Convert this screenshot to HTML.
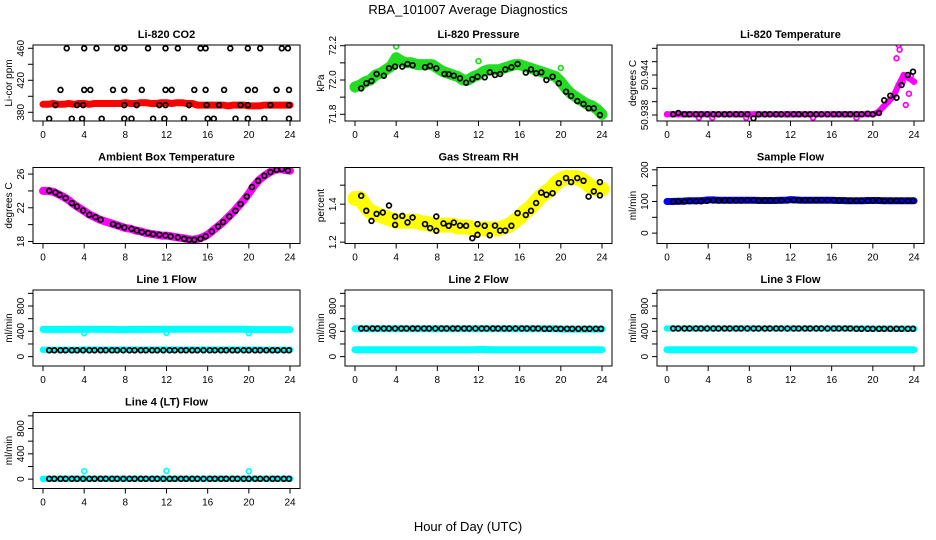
<!DOCTYPE html>
<html><head><meta charset="utf-8">
<style>
html,body{margin:0;padding:0;background:#fff;}
svg{display:block;font-family:"Liberation Sans",Arial,sans-serif;}
</style></head>
<body>
<svg id="chart" width="936" height="540" viewBox="0 0 936 540" xmlns="http://www.w3.org/2000/svg">
<rect width="936" height="540" fill="#fff"/>
<text x="468" y="14" font-size="13" text-anchor="middle">RBA_101007  Average Diagnostics</text>
<text x="468" y="531" font-size="13" text-anchor="middle">Hour of Day (UTC)</text>
</svg>
<script>
const denseHours=[0,0.5,1,1.5,2,2.5,3,3.5,4,4.5,5,5.5,6,6.5,7,7.5,8,8.5,9,9.5,10,10.5,11,11.5,12,12.5,13,13.5,14,14.5,15,15.5,16,16.5,17,17.5,18,18.5,19,19.5,20,20.5,21,21.5,22,22.5,23,23.5,24];
const blackHours=[0.6,1.1,1.7,2.2,2.8,3.3,3.9,4.5,5.0,5.6,6.1,6.7,7.2,7.8,8.4,8.9,9.5,10.0,10.6,11.1,11.7,12.3,12.8,13.4,13.9,14.5,15.0,15.6,16.2,16.7,17.3,17.8,18.4,18.9,19.5,20.0,20.6,21.1,21.7,22.3,22.8,23.4,23.9];
const xTicks=[0,4,8,12,16,20,24];

// CO2
const co2Red=[390,390,391,390,390,391,390,391,391,390,391,391,391,391,391,391,392,391,391,392,392,391,391,392,392,391,392,392,391,391,389,389,389,389,389,389,388,389,389,389,388,388,388,389,389,389,389,389,389];
const co2BlackHours=[2.3,4.0,5.2,7.2,7.9,10.2,11.9,13.1,15.3,15.8,18.2,19.9,21.1,23.2,23.8, 1.7,4.0,4.6,6.8,7.9,9.6,11.9,12.5,14.7,15.8,17.6,19.9,20.6,22.7,23.9, 1.2,3.3,3.9,7.9,9.1,11.3,11.9,14.2,15.9,17.1,19.2,19.9,22.1,23.9, 0.6,2.8,3.8,5.7,7.9,8.6,10.7,11.8,13.7,16.0,16.6,18.7,19.9,21.5,23.9];
const co2Black=[460,460,460,460,460,460,460,460,460,460,460,460,460,460,460, 408,408,408,408,408,408,408,408,408,408,408,408,408,408,408, 389,389,389,389,389,389,389,389,389,389,389,389,389,389, 372,372,372,372,372,372,372,372,372,372,372,372,372,372,372];

// Pressure
const presGreen=[71.96,71.97,71.99,72.00,72.03,72.04,72.06,72.08,72.13,72.11,72.10,72.10,72.09,72.09,72.09,72.09,72.07,72.05,72.04,72.03,72.02,72.00,72.00,72.02,72.03,72.05,72.06,72.06,72.06,72.07,72.08,72.09,72.09,72.08,72.07,72.06,72.05,72.04,72.03,72.02,71.99,71.95,71.92,71.90,71.88,71.86,71.85,71.83,71.80];
const presOutHours=[0.0,4.0,12.0,20.0];
const presOut=[71.945,72.195,72.11,72.07];
const presBlackHours=[0.6,1.1,1.6,2.1,2.8,3.3,3.9,4.6,5.1,5.6,6.8,7.3,7.9,8.7,9.1,9.6,10.2,10.8,11.4,11.9,12.6,13.1,13.6,14.1,14.6,15.2,15.8,16.6,17.1,17.6,18.1,18.6,19.2,19.8,20.5,21.0,21.6,22.2,22.7,23.2,23.8];
const presBlack=[71.951,71.981,71.994,72.035,72.025,72.068,72.078,72.078,72.093,72.086,72.074,72.082,72.068,72.035,72.033,72.025,72.010,71.984,72.004,72.019,72.016,72.045,72.029,72.035,72.062,72.074,72.093,72.043,72.062,72.039,72.045,72.000,72.019,71.981,71.932,71.907,71.877,71.860,71.835,71.835,71.796];

// Li-820 temperature
const ltMag=[50.9381,50.9381,50.9381,50.9381,50.9381,50.9381,50.9381,50.9381,50.9381,50.9381,50.9381,50.9381,50.9381,50.9381,50.9381,50.9381,50.9381,50.9381,50.9381,50.9381,50.9381,50.9381,50.9381,50.9381,50.9381,50.9381,50.9381,50.9381,50.9381,50.9381,50.9381,50.9381,50.9381,50.9381,50.9381,50.9381,50.9381,50.9381,50.9381,50.9381,50.9381,50.9384,50.9392,50.9400,50.9408,50.9425,50.9440,50.9435,50.9430];
const ltMagExtraHours=[3.1,4.4,7.7,14.2,18.4,22.3,22.5,22.6,22.9,23.2,23.5,23.7];
const ltMagExtra=[50.9376,50.9376,50.9376,50.9376,50.9376,50.9465,50.9485,50.9478,50.9430,50.9395,50.9412,50.9438];
const ltBlack=[50.9381,50.9383,50.9381,50.9381,50.9381,50.9381,50.9381,50.9381,50.9381,50.9381,50.9381,50.9381,50.9381,50.9381,50.9375,50.9381,50.9381,50.9381,50.9381,50.9381,50.9381,50.9381,50.9381,50.9381,50.9381,50.9381,50.9381,50.9381,50.9381,50.9381,50.9381,50.9381,50.9381,50.9381,50.9382,50.9381,50.9383,50.9402,50.9409,50.9406,50.9425,50.9440,50.9445];

// Ambient box temperature
const ambMag=[24.0,24.0,23.9,23.6,23.3,22.9,22.4,22.0,21.6,21.2,20.9,20.6,20.4,20.2,20.0,19.8,19.6,19.5,19.3,19.2,19.0,18.9,18.8,18.7,18.7,18.6,18.5,18.4,18.3,18.2,18.3,18.5,18.8,19.3,19.8,20.3,20.9,21.5,22.2,22.9,23.7,24.6,25.3,25.8,26.2,26.5,26.6,26.5,26.4];
const ambBlackHours=[0.6,1.2,1.6,2.2,2.8,3.3,3.9,4.5,5.1,5.6,6.8,7.3,7.9,8.6,9.1,9.6,10.2,10.7,11.3,11.9,12.4,13.1,13.7,14.2,14.7,15.3,15.8,16.4,17.0,17.5,18.1,18.7,19.2,19.8,20.3,20.9,21.5,22.1,22.7,23.2,23.8];
const ambBlack=[24.02,23.81,23.54,23.15,22.55,22.15,21.68,21.17,20.89,20.58,20.06,19.86,19.66,19.51,19.31,19.11,18.99,18.88,18.80,18.71,18.60,18.48,18.32,18.20,18.20,18.32,18.60,19.19,19.78,20.30,20.97,21.64,22.44,23.34,24.45,25.20,25.80,26.23,26.51,26.59,26.42];

// Gas stream RH
const rhYel=[1.43,1.43,1.39,1.36,1.35,1.34,1.33,1.32,1.31,1.31,1.31,1.31,1.31,1.30,1.30,1.29,1.29,1.29,1.29,1.29,1.28,1.28,1.28,1.27,1.27,1.27,1.27,1.27,1.27,1.28,1.29,1.31,1.33,1.36,1.38,1.41,1.44,1.46,1.48,1.51,1.53,1.54,1.54,1.54,1.53,1.51,1.49,1.48,1.48];
const rhBlackHours=[0.6,1.1,1.6,2.1,2.7,3.3,3.9,3.9,4.6,5.1,5.6,6.8,7.3,7.9,7.9,8.6,9.1,9.6,10.2,10.8,11.4,11.9,11.9,12.6,13.1,13.6,14.1,14.6,15.2,15.8,16.6,17.1,17.6,18.1,18.6,19.2,19.8,20.5,21.0,21.6,22.2,22.7,23.2,23.8,23.8];
const rhBlack=[1.444,1.365,1.312,1.349,1.356,1.393,1.335,1.291,1.338,1.304,1.330,1.295,1.274,1.335,1.260,1.299,1.286,1.303,1.287,1.286,1.221,1.295,1.239,1.286,1.236,1.287,1.261,1.261,1.286,1.353,1.343,1.365,1.406,1.461,1.450,1.458,1.511,1.537,1.516,1.537,1.523,1.440,1.467,1.516,1.446];

// Sample flow
const sfBlue=[100,100,101,101,102,102,102,103,105,105,104,104,104,104,104,104,104,104,103,103,103,103,104,104,106,105,104,104,104,104,104,104,104,103,103,102,102,102,102,103,103,103,102,102,102,102,102,102,102];
const sfBlack=[100,100,100,101,101,101,102,103,103,103,103,103,103,104,104,103,103,103,103,103,103,104,104,104,104,104,104,104,104,103,103,102,102,102,102,103,103,102,102,102,102,102,102];

// Line flows
const l1Hi=[430,430,430,430,430,430,430,432,430,432,432,430,430,430,430,428,428,430,430,430,430,430,430,432,432,432,432,434,434,434,434,434,434,434,434,434,432,432,432,432,430,428,428,428,428,428,428,428,428];
const l1Lo=[110,110,110,110,110,110,110,110,112,112,112,112,112,112,112,112,112,112,112,112,112,112,112,112,112,112,112,112,112,112,112,112,112,112,112,112,112,112,112,112,112,112,112,110,110,110,110,110,110];
const l1DipHours=[4.0,12.0,20.0];
const l1Dip=[370,375,370];
const l1Black=[100,100,100,100,100,100,100,100,100,100,100,100,100,100,100,100,100,100,100,100,100,100,100,100,100,100,100,100,100,100,100,100,100,100,100,100,100,100,100,100,100,100,100];
const l2Hi=[440,440,440,440,440,440,440,440,440,440,440,440,440,440,440,440,440,440,440,440,440,440,440,440,440,440,440,440,440,440,440,440,440,440,440,440,440,440,440,440,435,435,435,435,435,435,435,435,435];
const l2Lo=[110,110,110,110,110,110,110,110,110,110,110,110,110,110,110,110,110,110,110,110,110,110,110,110,112,112,110,110,110,110,110,110,110,110,110,110,110,110,110,110,110,110,110,110,110,110,110,110,110];
const l2Black=[445,445,445,445,445,445,445,445,445,445,445,445,445,445,445,445,445,445,445,445,445,445,445,445,445,445,445,445,445,445,445,445,440,440,440,440,440,440,440,440,440,440,440];
const l3Hi=[445,445,445,445,445,445,445,445,445,445,445,445,445,445,445,445,445,445,445,445,445,445,445,445,445,445,445,445,445,445,445,445,445,445,445,445,445,445,445,445,440,440,440,440,440,440,440,440,440];
const l3Lo=[110,110,110,110,110,110,110,110,110,110,110,110,110,110,110,110,110,110,110,110,110,110,110,110,110,110,110,110,110,110,110,110,110,110,110,110,110,110,110,110,110,110,110,110,110,110,110,110,110];
const l3Black=[445,445,445,445,445,445,445,445,445,445,445,445,445,445,445,445,445,445,445,445,445,445,445,445,445,445,445,445,445,445,445,445,440,440,440,440,440,440,440,440,440,440,440];
const l4Cyan=[5,5,5,5,5,5,5,5,5,5,5,5,5,5,5,5,5,5,5,5,5,5,5,5,5,5,5,5,5,5,5,5,5,5,5,5,5,5,5,5,5,5,5,5,5,5,5,5,5];
const l4OutHours=[4.0,12.0,20.0];
const l4Out=[125,130,125];
const l4Black=[5,5,5,5,5,5,5,5,5,5,5,5,5,5,5,5,5,5,5,5,5,5,5,5,5,5,5,5,5,5,5,5,5,5,5,5,5,5,5,5,5,5,5];

const flowTicks=[0,200,400,600,800,1000];
const flowLabels=["0","","400","","800",""];

const panels=[
 {name:"co2",title:"Li-820 CO2",ylab:"Li-cor ppm",c:0,r:0,lo:369.1,hi:464.1,ticks:[380,400,420,440,460],labels:["380","","420","","460"],
  series:[{h:denseHours,v:co2Red,col:"#ff0000",w:7},{h:co2BlackHours,v:co2Black,col:"#000"}]},
 {name:"pressure",title:"Li-820 Pressure",ylab:"kPa",c:1,r:0,lo:71.761,hi:72.204,ticks:[71.8,71.9,72.0,72.1,72.2],labels:["71.8","","72.0","","72.2"],
  series:[{h:denseHours,v:presGreen,col:"#22dd22",w:11},{h:presOutHours,v:presOut,col:"#22dd22"},{h:presBlackHours,v:presBlack,col:"#000"}]},
 {name:"li820-temp",title:"Li-820 Temperature",ylab:"degrees C",c:2,r:0,lo:50.9371,hi:50.9485,ticks:[50.938,50.940,50.942,50.944,50.946,50.948],labels:["50.938","","","50.944","",""],
  series:[{h:denseHours,v:ltMag,col:"#ff00ff",w:6},{h:ltMagExtraHours,v:ltMagExtra,col:"#ff00ff"},{h:blackHours,v:ltBlack,col:"#000"}]},
 {name:"ambient-temp",title:"Ambient Box Temperature",ylab:"degrees C",c:0,r:1,lo:17.76,hi:26.78,ticks:[18,20,22,24,26],labels:["18","","22","","26"],
  series:[{h:denseHours,v:ambMag,col:"#ff00ff",w:8},{h:ambBlackHours,v:ambBlack,col:"#000"}]},
 {name:"gas-rh",title:"Gas Stream RH",ylab:"percent",c:1,r:1,lo:1.193,hi:1.593,ticks:[1.2,1.3,1.4,1.5],labels:["1.2","","1.4",""],
  series:[{h:denseHours,v:rhYel,col:"#ffff00",w:15},{h:rhBlackHours,v:rhBlack,col:"#000"}]},
 {name:"sample-flow",title:"Sample Flow",ylab:"ml/min",c:2,r:1,lo:-32.7,hi:207.3,ticks:[0,50,100,150,200],labels:["0","","100","","200"],
  series:[{h:denseHours,v:sfBlue,col:"#0000ff",w:7},{h:blackHours,v:sfBlack,col:"#000"}]},
 {name:"line1-flow",title:"Line 1 Flow",ylab:"ml/min",c:0,r:2,lo:-148,hi:1053,ticks:flowTicks,labels:flowLabels,
  series:[{h:denseHours,v:l1Hi,col:"#00ffff",w:7},{h:denseHours,v:l1Lo,col:"#00ffff",w:6},{h:l1DipHours,v:l1Dip,col:"#00ffff"},{h:blackHours,v:l1Black,col:"#000"}]},
 {name:"line2-flow",title:"Line 2 Flow",ylab:"ml/min",c:1,r:2,lo:-148,hi:1053,ticks:flowTicks,labels:flowLabels,
  series:[{h:denseHours,v:l2Hi,col:"#00ffff",w:7},{h:denseHours,v:l2Lo,col:"#00ffff",w:7},{h:blackHours,v:l2Black,col:"#000"}]},
 {name:"line3-flow",title:"Line 3 Flow",ylab:"ml/min",c:2,r:2,lo:-148,hi:1053,ticks:flowTicks,labels:flowLabels,
  series:[{h:denseHours,v:l3Hi,col:"#00ffff",w:6},{h:denseHours,v:l3Lo,col:"#00ffff",w:7},{h:blackHours,v:l3Black,col:"#000"}]},
 {name:"line4-flow",title:"Line 4 (LT) Flow",ylab:"ml/min",c:0,r:3,lo:-148,hi:1053,ticks:flowTicks,labels:flowLabels,
  series:[{h:denseHours,v:l4Cyan,col:"#00ffff",w:6},{h:l4OutHours,v:l4Out,col:"#00ffff"},{h:blackHours,v:l4Black,col:"#000"}]}
];

const NS="http://www.w3.org/2000/svg";
const svg=document.getElementById("chart");
function mk(tag,attrs,parent){const e=document.createElementNS(NS,tag);for(const k in attrs)e.setAttribute(k,attrs[k]);(parent||svg).appendChild(e);return e;}

panels.forEach(p=>{
  const x0=43+312*p.c, sx=247/24;
  const top=45+122.5*p.r, H=76, bot=top+H;
  const left=x0-10, right=x0+257;
  const X=h=>x0+h*sx;
  const Y=v=>bot-(v-p.lo)/(p.hi-p.lo)*H;
  const g=mk("g",{});
  
  
  const clipId="clip-"+p.name;
  const cp=mk("clipPath",{id:clipId},g);
  mk("rect",{x:left,y:top,width:right-left,height:H},cp);
  const plot=mk("g",{"clip-path":"url(#"+clipId+")"},g);
  p.series.forEach((s,si)=>{
    const sg=mk("g",{},plot);
    
    
    if(s.w){
      const pts=s.h.map((h,i)=>X(h).toFixed(1)+","+Y(s.v[i]).toFixed(1)).join(" ");
      const pl=mk("polyline",{points:pts,fill:"none",stroke:s.col,"stroke-width":s.w,"stroke-linejoin":"round","stroke-linecap":"round"},sg);
      
      
    }
    s.h.forEach((h,i)=>{
      const c=mk("circle",{cx:X(h).toFixed(1),cy:Y(s.v[i]).toFixed(1),r:2.4,fill:"none",stroke:s.col,"stroke-width":1.7},sg);
      
      
    });
  });
  const box=mk("rect",{x:left,y:top,width:right-left,height:H,fill:"none",stroke:"#000","stroke-width":1},g);
  
  
  const t=mk("text",{x:(left+right)/2,y:top-7,"font-size":11,"font-weight":"bold","text-anchor":"middle"},g);
  t.textContent=p.title;
  
  
  const xa=mk("g",{},g);
  
  
  mk("line",{x1:X(0),x2:X(24),y1:bot,y2:bot,stroke:"#000"},xa);
  xTicks.forEach(v=>{
    mk("line",{x1:X(v),x2:X(v),y1:bot,y2:bot+5,stroke:"#000"},xa);
    const tl=mk("text",{x:X(v),y:bot+17,"font-size":10,"text-anchor":"middle"},xa);
    tl.textContent=v;
    
    
  });
  const ya=mk("g",{},g);
  
  
  mk("line",{x1:left,x2:left,y1:Y(p.ticks[0]),y2:Y(p.ticks[p.ticks.length-1]),stroke:"#000"},ya);
  p.ticks.forEach((v,i)=>{
    const yy=Y(v);
    mk("line",{x1:left-5,x2:left,y1:yy,y2:yy,stroke:"#000"},ya);
    if(p.labels[i]){
      const tl=mk("text",{x:0,y:0,"font-size":10,"text-anchor":"middle",transform:"translate("+(left-9)+","+yy.toFixed(1)+") rotate(-90)"},ya);
      tl.textContent=p.labels[i];
      
      
    }
  });
  const yl=mk("text",{x:0,y:0,"font-size":10,"text-anchor":"middle",transform:"translate("+(left-21)+","+(top+H/2)+") rotate(-90)"},g);
  yl.textContent=p.ylab;
  
  
});
</script>
</body></html>
